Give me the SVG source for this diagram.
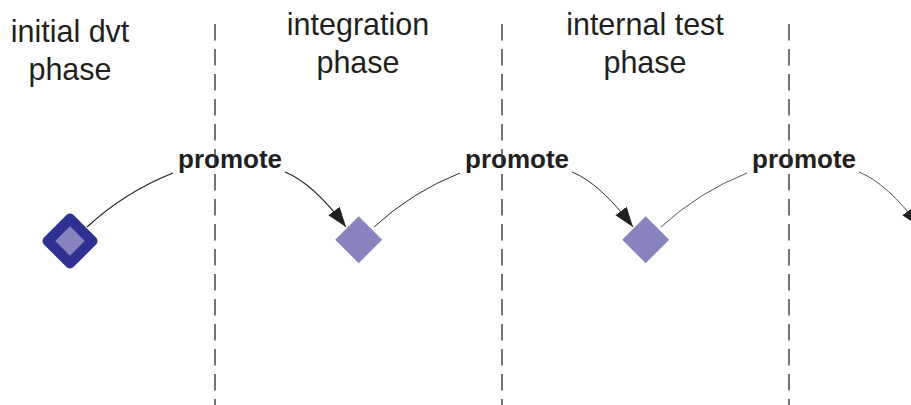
<svg xmlns="http://www.w3.org/2000/svg" width="911" height="405" viewBox="0 0 911 405">
<style>
  .title { font-family: "Liberation Sans", Arial, sans-serif; font-size: 30.5px; fill: #231f20; text-anchor: middle; }
  .label { font-family: "Liberation Sans", Arial, sans-serif; font-size: 26px; font-weight: bold; fill: #231f20; text-anchor: middle; }
  .lane { stroke: #3a3a3a; stroke-width: 1.4; stroke-dasharray: 16.5 8.5; fill: none; }
  .conn { stroke: #231f20; fill: none; }
  .light { fill: #8884bf; }
  .dark { fill: #2e3192; }
</style>
<defs>
  <marker id="arrow" markerUnits="userSpaceOnUse" markerWidth="22" markerHeight="16" refX="20" refY="7" orient="auto">
    <path d="M0,0 L20,7 L0,14 Z" fill="#231f20"/>
  </marker>
</defs>
<rect width="911" height="405" fill="#ffffff"/>

<g id="titles">
  <g id="title-initial">
    <text class="title" x="70" y="42">initial dvt</text>
    <text class="title" x="70" y="80">phase</text>
  </g>
  <g id="title-integration">
    <text class="title" x="358" y="35">integration</text>
    <text class="title" x="358" y="73">phase</text>
  </g>
  <g id="title-internal">
    <text class="title" x="645" y="35">internal test</text>
    <text class="title" x="645" y="73">phase</text>
  </g>
</g>

<g id="connectors">
  <path class="conn" stroke-width="1.2" d="M87,227 Q125,192 173,173"/>
  <path class="conn" stroke-width="1.2" d="M285,172 Q313.2,183.3 346,227" marker-end="url(#arrow)"/>
  <path class="conn" stroke-width="0.95" d="M374,227 Q412,192 460,173"/>
  <path class="conn" stroke-width="0.95" d="M572,172 Q600.2,183.3 633,227" marker-end="url(#arrow)"/>
  <path class="conn" stroke-width="0.75" d="M661,227 Q699,192 747,173"/>
  <path class="conn" stroke-width="0.75" d="M859,172 Q887.2,183.3 920,227" marker-end="url(#arrow)"/>
</g>

<g id="labels">
  <text class="label" x="230" y="168">promote</text>
  <text class="label" x="517" y="168">promote</text>
  <text class="label" x="804" y="168">promote</text>
</g>

<g id="lanes">
  <line class="lane" x1="215" y1="24" x2="215" y2="405"/>
  <line class="lane" x1="502" y1="24" x2="502" y2="405"/>
  <line class="lane" x1="789" y1="24" x2="789" y2="405"/>
</g>

<g id="node-initial">
  <rect class="dark" x="-20.9" y="-20.9" width="41.8" height="41.8" rx="5" transform="translate(70,241) rotate(45)"/>
  <rect class="light" x="-10.4" y="-10.4" width="20.8" height="20.8" transform="translate(70,241) rotate(45)"/>
</g>
<g id="node-integration">
  <rect class="light" x="-16.6" y="-16.6" width="33.2" height="33.2" transform="translate(358.7,239.7) rotate(45)"/>
</g>
<g id="node-internal">
  <rect class="light" x="-16.6" y="-16.6" width="33.2" height="33.2" transform="translate(645.7,239.7) rotate(45)"/>
</g>
</svg>
